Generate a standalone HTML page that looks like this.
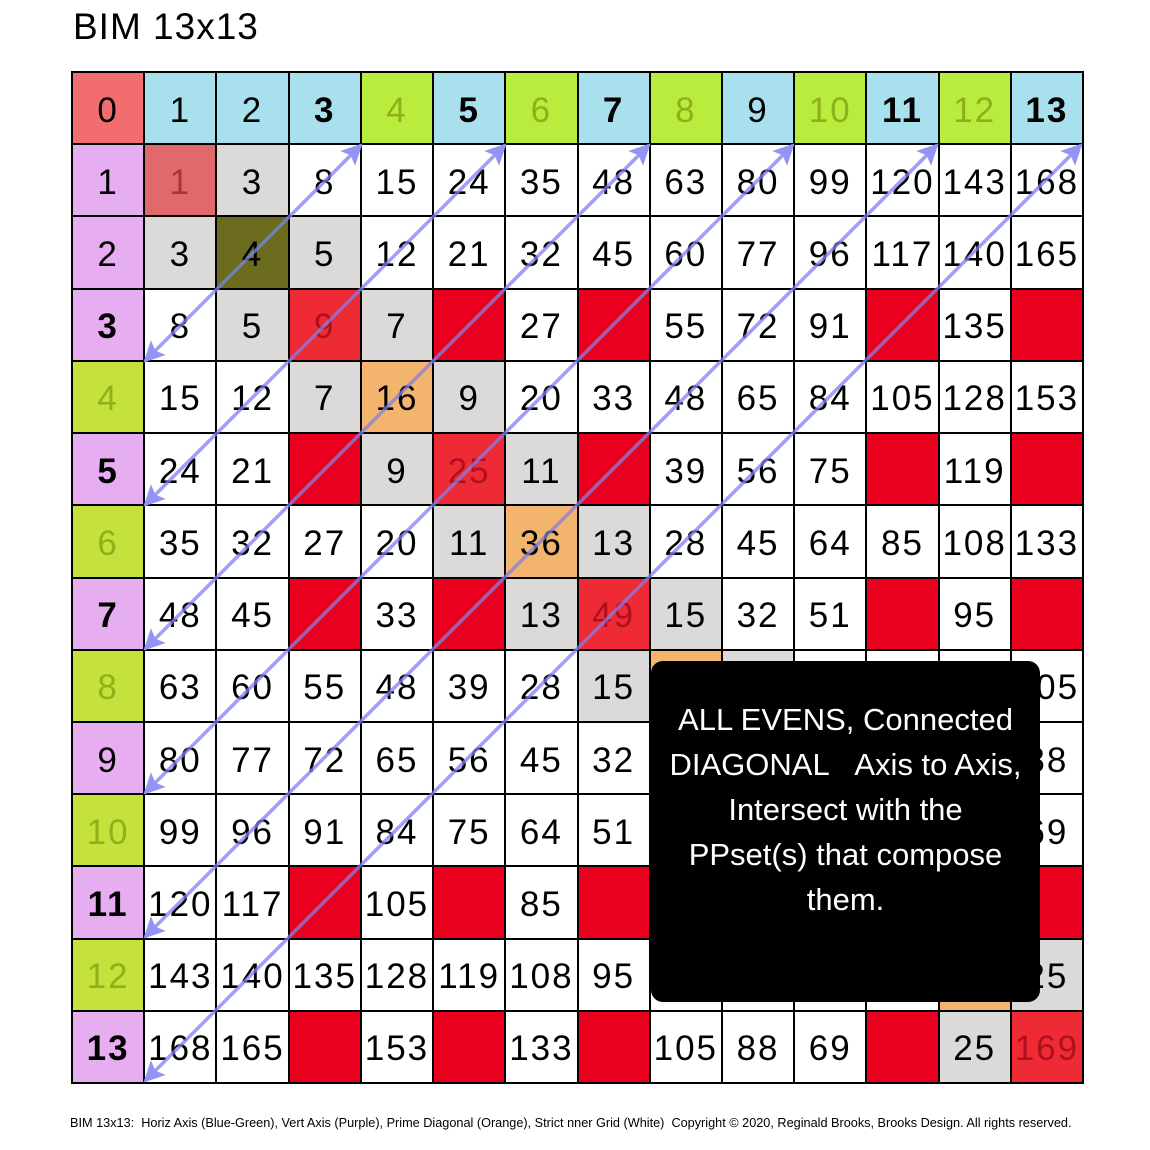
<!DOCTYPE html>
<html><head><meta charset="utf-8"><style>
body{margin:0;width:1150px;height:1150px;background:#fff;position:relative;overflow:hidden;font-family:"Liberation Sans",sans-serif}
.t{position:absolute;left:73px;top:6px;font-size:37px;letter-spacing:1px}
.grid{position:absolute;left:71px;top:71px;width:1013px;height:1013px;box-sizing:border-box;padding:2px;background:#000;display:grid;grid-template-columns:repeat(14,1fr);grid-template-rows:repeat(14,1fr);gap:2px}
.grid div{background:#fff;display:flex;align-items:center;justify-content:center;font-size:35px;letter-spacing:2px;color:#000;padding-top:5px;box-sizing:border-box}
.grid .z{background:#f26d6d}
.grid .b{background:#a8e0ee}
.grid .g{background:#b9ec3c;color:#8fb01a}
.grid .p{background:#e6aef0}
.grid .lg{background:#c5e23c;color:#8fb01a}
.grid .q{background:#dcdad8}
.grid .r{background:#e8001e}
.grid .d1{background:#e06a6a;color:#b03040}
.grid .d4{background:#6b6b1e}
.grid .dr{background:#ee2a35;color:#b0101e}
.grid .o{background:#f3b46e}
.bo{font-weight:bold}
.box{position:absolute;left:651px;top:661px;width:389px;height:341px;background:#000;border-radius:12px;color:#fff;font-size:31px;text-align:center;line-height:45px;padding-top:36px;box-sizing:border-box}
.f{position:absolute;left:70px;top:1116px;font-size:12.7px;white-space:nowrap}
svg{position:absolute;left:0;top:0}
</style></head><body>
<div class="t">BIM 13x13</div>
<div class="grid">
<div class="z">0</div><div class="b">1</div><div class="b">2</div><div class="b bo">3</div><div class="g">4</div><div class="b bo">5</div><div class="g">6</div><div class="b bo">7</div><div class="g">8</div><div class="b">9</div><div class="g">10</div><div class="b bo">11</div><div class="g">12</div><div class="b bo">13</div>

<div class="p">1</div><div class="d1">1</div><div class="q">3</div><div>8</div><div>15</div><div>24</div><div>35</div><div>48</div><div>63</div><div>80</div><div>99</div><div>120</div><div>143</div><div>168</div>

<div class="p">2</div><div class="q">3</div><div class="d4">4</div><div class="q">5</div><div>12</div><div>21</div><div>32</div><div>45</div><div>60</div><div>77</div><div>96</div><div>117</div><div>140</div><div>165</div>

<div class="p bo">3</div><div>8</div><div class="q">5</div><div class="dr">9</div><div class="q">7</div><div class="r"></div><div>27</div><div class="r"></div><div>55</div><div>72</div><div>91</div><div class="r"></div><div>135</div><div class="r"></div>

<div class="lg">4</div><div>15</div><div>12</div><div class="q">7</div><div class="o">16</div><div class="q">9</div><div>20</div><div>33</div><div>48</div><div>65</div><div>84</div><div>105</div><div>128</div><div>153</div>

<div class="p bo">5</div><div>24</div><div>21</div><div class="r"></div><div class="q">9</div><div class="dr">25</div><div class="q">11</div><div class="r"></div><div>39</div><div>56</div><div>75</div><div class="r"></div><div>119</div><div class="r"></div>

<div class="lg">6</div><div>35</div><div>32</div><div>27</div><div>20</div><div class="q">11</div><div class="o">36</div><div class="q">13</div><div>28</div><div>45</div><div>64</div><div>85</div><div>108</div><div>133</div>

<div class="p bo">7</div><div>48</div><div>45</div><div class="r"></div><div>33</div><div class="r"></div><div class="q">13</div><div class="dr">49</div><div class="q">15</div><div>32</div><div>51</div><div class="r"></div><div>95</div><div class="r"></div>

<div class="lg">8</div><div>63</div><div>60</div><div>55</div><div>48</div><div>39</div><div>28</div><div class="q">15</div><div class="o">64</div><div class="q">17</div><div>36</div><div>57</div><div>80</div><div>105</div>

<div class="p">9</div><div>80</div><div>77</div><div>72</div><div>65</div><div>56</div><div>45</div><div>32</div><div>17</div><div>81</div><div>19</div><div>40</div><div>63</div><div>88</div>

<div class="lg">10</div><div>99</div><div>96</div><div>91</div><div>84</div><div>75</div><div>64</div><div>51</div><div>36</div><div>19</div><div>100</div><div>21</div><div>44</div><div>69</div>

<div class="p bo">11</div><div>120</div><div>117</div><div class="r"></div><div>105</div><div class="r"></div><div>85</div><div class="r"></div><div>57</div><div>40</div><div>21</div><div>121</div><div>23</div><div class="r"></div>

<div class="lg">12</div><div>143</div><div>140</div><div>135</div><div>128</div><div>119</div><div>108</div><div>95</div><div>80</div><div>63</div><div>44</div><div>23</div><div class="o">144</div><div class="q">25</div>

<div class="p bo">13</div><div>168</div><div>165</div><div class="r"></div><div>153</div><div class="r"></div><div>133</div><div class="r"></div><div>105</div><div>88</div><div>69</div><div class="r"></div><div class="q">25</div><div class="dr">169</div>
</div>
<svg width="1150" height="1150">
<defs><marker id="a" viewBox="0 0 10 10" refX="9" refY="5" markerWidth="7" markerHeight="6" orient="auto-start-reverse"><path d="M0,0 L10,5 L0,10 L2,5 z" fill="#8f95f0"/></marker></defs>
<g stroke="#7a82f0" stroke-width="3.5" stroke-opacity="0.75" marker-start="url(#a)" marker-end="url(#a)">
<line x1="361" y1="145" x2="145" y2="361"/>
<line x1="505" y1="145" x2="145" y2="505"/>
<line x1="649" y1="145" x2="145" y2="649"/>
<line x1="793" y1="145" x2="145" y2="793"/>
<line x1="937" y1="145" x2="145" y2="937"/>
<line x1="1081" y1="145" x2="145" y2="1081"/>
</g></svg>
<div class="box">ALL EVENS, Connected<br>DIAGONAL &nbsp;&nbsp;Axis to Axis,<br>Intersect with the<br>PPset(s) that compose<br>them.</div>
<div class="f">BIM 13x13: &nbsp;Horiz Axis (Blue-Green), Vert Axis (Purple), Prime Diagonal (Orange), Strict nner Grid (White) &nbsp;Copyright © 2020, Reginald Brooks, Brooks Design. All rights reserved.</div>
</body></html>
